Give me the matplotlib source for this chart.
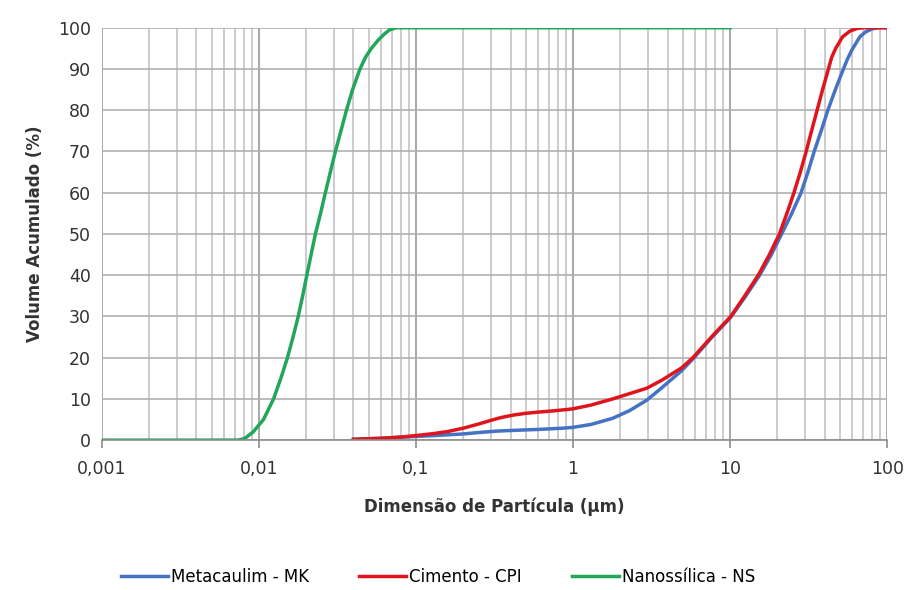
import matplotlib
matplotlib.use('Agg')
import matplotlib.pyplot as plt
import matplotlib.ticker as ticker

# ========== Data ==========
# Nanossílica - NS
ns_x = [0.001, 0.005, 0.0073, 0.0077, 0.0082, 0.0092, 0.0107, 0.0124, 0.0138,
        0.0152, 0.0165, 0.0178, 0.0190, 0.0202, 0.0215, 0.0229, 0.0247, 0.0265,
        0.0285, 0.0307, 0.0333, 0.0361, 0.0395, 0.0440, 0.0480, 0.0520, 0.0575,
        0.0630, 0.0680, 0.0750, 0.1, 1.0, 10.0]
ns_y = [0, 0, 0, 0.15, 0.5, 2, 5, 10, 15,
        20, 25, 30, 35, 40, 45, 50, 55, 60,
        65, 70, 75, 80, 85, 90, 93, 95, 97,
        98.5, 99.5, 100, 100, 100, 100]

# Cimento - CPI
cp_x = [0.04, 0.06, 0.08, 0.1, 0.13, 0.16, 0.2, 0.25, 0.3, 0.35, 0.42, 0.5,
        0.6, 0.75, 0.9, 1.0, 1.3, 1.79, 2.3, 2.95, 3.7, 4.9, 5.8, 7.6, 10.1,
        12.4, 15.1, 17.8, 20.6, 23.0, 25.5, 28.0, 30.5, 33.0, 35.8, 38.8, 41.9,
        44.3, 47.0, 52.0, 58.0, 64.0, 70.0, 100.0]
cp_y = [0.2, 0.45, 0.75, 1.1, 1.6, 2.1, 2.9, 3.9, 4.8, 5.5, 6.1, 6.5,
        6.8, 7.1, 7.4, 7.6, 8.5, 10.0, 11.3, 12.6, 14.6, 17.5, 20.0, 25.0, 30.0,
        35.0, 40.0, 45.0, 50.0, 55.0, 60.0, 65.0, 70.0, 75.0, 80.0, 85.0, 89.5,
        92.8, 95.0, 97.8, 99.2, 99.8, 100, 100]

# Metacaulim - MK
mk_x = [0.04, 0.06, 0.08, 0.1, 0.13, 0.16, 0.2, 0.26, 0.33, 0.44, 0.6, 0.86,
        1.0, 1.3, 1.79, 2.3, 2.95, 3.7, 4.9, 5.8, 7.6, 10.1, 12.5, 15.3, 18.2,
        21.3, 24.7, 28.3, 31.3, 34.3, 38.0, 41.9, 46.8, 52.0, 56.0, 60.0, 67.0,
        73.0, 80.0, 87.0, 100.0]
mk_y = [0.2, 0.45, 0.7, 0.9, 1.1, 1.3, 1.5, 1.9, 2.2, 2.4, 2.6, 2.9,
        3.1, 3.8, 5.3, 7.2, 9.7, 12.8, 16.8, 19.7, 24.8, 29.8, 34.8, 39.8, 44.8,
        50.0, 55.0, 60.0, 65.0, 70.0, 75.0, 80.0, 85.0, 89.5, 92.5, 94.8, 97.8,
        99.0, 99.7, 100, 100]

x_ticks = [0.001, 0.01, 0.1, 1, 10, 100]
x_tick_labels = ['0,001', '0,01', '0,1', '1', '10', '100']
y_ticks = list(range(0, 101, 10))

# ========== Style ==========
plt.rcParams.update({
    'font.family': 'DejaVu Sans',
    'font.size': 12,
})

fig = plt.figure(figsize=(9.09, 5.90), dpi=100)
ax = fig.add_axes([0.112, 0.254, 0.864, 0.699])

ax.plot(mk_x, mk_y, color='#4472c4', lw=2.5, label='Metacaulim - MK')
ax.plot(cp_x, cp_y, color='#e0141c', lw=2.5, label='Cimento - CPI')
ax.plot(ns_x, ns_y, color='#22a65a', lw=2.5, label='Nanossílica - NS')

ax.set_xscale('log')
ax.set_xlim(0.001, 100)
ax.set_ylim(0, 100)
ax.xaxis.set_major_locator(ticker.FixedLocator(x_ticks))
ax.xaxis.set_major_formatter(ticker.FixedFormatter(x_tick_labels))
ax.xaxis.set_minor_locator(ticker.LogLocator(base=10, subs=range(2, 10), numticks=20))
ax.xaxis.set_minor_formatter(ticker.NullFormatter())
ax.set_yticks(y_ticks)

ax.grid(True, which='major', axis='x', color='#9a9a9a', lw=1.2)
ax.grid(True, which='minor', axis='x', color='#c4c4c4', lw=1.2)
ax.grid(True, which='major', axis='y', color='#b0b0b0', lw=1.2)
ax.set_axisbelow(True)

for side in ['top', 'right', 'left']:
    ax.spines[side].set_visible(False)
ax.spines['bottom'].set_color('#8c8c8c')
ax.spines['bottom'].set_linewidth(1.2)

ax.tick_params(axis='x', which='major', length=6, width=1.2, color='#8c8c8c',
               labelsize=12.5, labelcolor='#333333', pad=8)
ax.tick_params(axis='x', which='minor', length=0)
ax.tick_params(axis='y', length=0, labelsize=12.5, labelcolor='#333333', pad=8)

ax.set_xlabel('Dimensão de Partícula (µm)', fontweight='bold', fontsize=12,
              color='#333333', labelpad=14)
ax.set_ylabel('Volume Acumulado (%)', fontweight='bold', fontsize=12,
              color='#333333', labelpad=10)

fig.legend(loc='center', bbox_to_anchor=(0.482, 0.022), ncol=3, frameon=False,
           fontsize=12, handlelength=2.8, handletextpad=0.2, columnspacing=3.0)

fig.savefig('out.png', dpi=100)
